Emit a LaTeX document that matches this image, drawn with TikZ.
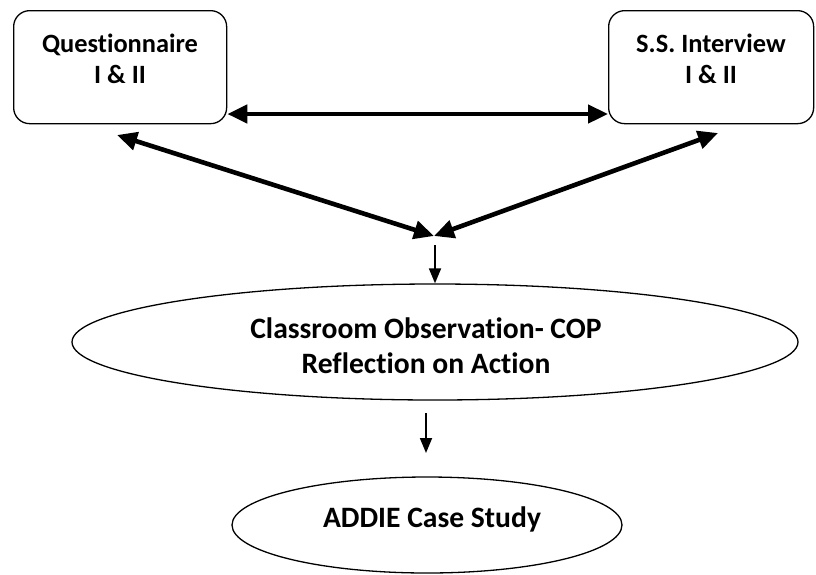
\documentclass[tikz,border=0pt]{standalone}
\usepackage{fontspec}
\setmainfont{Carlito}[Ligatures=NoCommon]
\usetikzlibrary{arrows.meta,shapes.geometric}
\tikzset{
  box/.style={draw,line width=1.3pt,rounded corners=16pt,minimum width=213pt,minimum height=113pt,anchor=north west},
  oval/.style={draw,ellipse,line width=1.3pt,inner sep=0pt},
  boxlbl/.style={font=\fontsize{26.4}{31}\selectfont\bfseries,align=center,anchor=base,inner sep=0pt},
  ovallbl/.style={font=\fontsize{29.6}{35}\selectfont\bfseries,align=center,anchor=base,inner sep=0pt},
  bigarrow/.style={line width=4.6pt,{Triangle[length=20pt,width=18pt]}-{Triangle[length=20pt,width=18pt]}},
  smallarrow/.style={line width=1.8pt,-{Triangle[length=15pt,width=12pt]}}
}
\begin{document}
\begin{tikzpicture}[x=1pt,y=-1pt]
\useasboundingbox (0,0) rectangle (816,574);
% top boxes
\node[box] (q) at (13,10) {};
\node[box,minimum width=205pt] (s) at (608,10) {};
% labels are placed by the baseline of their last line
\node[boxlbl] (qt) at (120,83) {Questionnaire\\I \& II};
\node[boxlbl] (st) at (711,83) {S.S. Interview\\I \& II};
% ovals
\node[oval,minimum width=726pt,minimum height=116pt] (cop) at (435,342) {};
\node[ovallbl] (copt) at (426,373) {Classroom Observation- COP\\Reflection on Action};
\node[oval,minimum width=390pt,minimum height=96pt] (addie) at (427,525) {};
\node[ovallbl] (addiet) at (432,527) {ADDIE Case Study};
% junction point and arrow ends
\coordinate (j) at (434,236);
\coordinate (qa) at (117,135);
\coordinate (sa) at (718,133);
\coordinate (d1) at (435,245);
\coordinate (d2) at (426,413);
\coordinate (a2) at (426,453);
% connectors
\draw[bigarrow] (q.east |- 0,114) -- (s.west |- 0,114);
\draw[bigarrow] (qa) -- (j);
\draw[bigarrow] (sa) -- (j);
\draw[smallarrow] (d1) -- (cop.north);
\draw[smallarrow] (d2) -- (a2);
\end{tikzpicture}
\end{document}
